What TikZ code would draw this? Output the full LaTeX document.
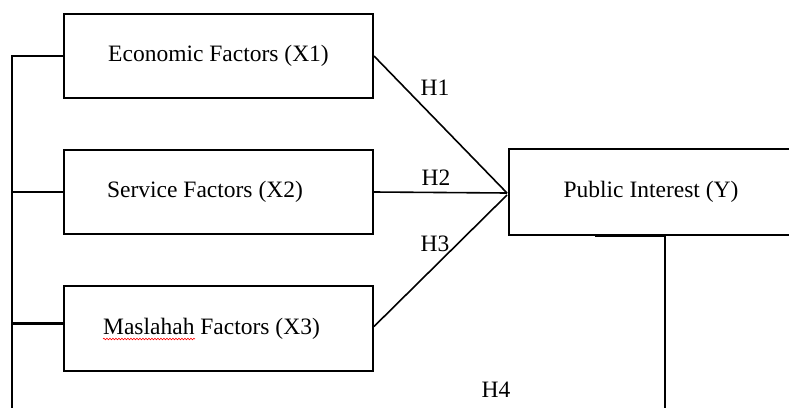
\documentclass[tikz,border=0pt]{standalone}
\usepackage{fontspec}
\setmainfont{Liberation Serif}
\usetikzlibrary{positioning, decorations.pathmorphing}
\tikzstyle{factor} = [rectangle, minimum width=309pt, minimum height=84pt, text centered, draw=black, line width=2pt, font=\fontsize{23.5}{27}\selectfont]
\tikzstyle{link} = [line width=1.6pt]
\tikzstyle{bus} = [line width=2.4pt]
\tikzstyle{hyp} = [font=\fontsize{23.5}{27}\selectfont, inner sep=0pt]

\begin{document}
\begin{tikzpicture}[x=1pt, y=-1pt]
    \useasboundingbox (0,0) rectangle (789,407);
    \clip (0,0) rectangle (789,407);
    % Nodes
    \node (eco) [factor] at (218.5,56) {Economic Factors (X1)};
    \node (serv) [factor] at (218.5,192) {\hspace*{-27pt}Service Factors (X2)};
    \node (masl) [factor, minimum height=85pt] at (218.5,328.5) {\hspace*{-14pt}Maslahah Factors (X3)};
    \node (pub) [factor, minimum width=284pt, minimum height=86pt] at (651,192) {Public Interest (Y)};
    \coordinate (busTop) at (12,56);
    \coordinate (busBot) at (12,410);
    \coordinate (hub) at (507,193);
    \coordinate (yDown) at (665,410);

    % Labels
    \node (h1) [hyp] at (435,88) {H1};
    \node (h2) [hyp] at (436,178) {H2};
    \node (h3) [hyp] at (435,244) {H3};
    \node (h4) [hyp] at (496,390) {H4};

    % Arrows
    \draw [bus] (eco.west) -- (busTop) -- (busBot);
    \draw [bus] (serv.west) -- (serv.west -| busTop);
    \draw [bus] ([yshift=5pt]masl.west) -- ([yshift=5pt]masl.west -| busTop);
    \draw [link] (eco.east) -- (hub);
    \draw [link] (serv.east) -- (hub);
    \draw [link] ([yshift=2pt]masl.east) -- ([yshift=-2pt]hub);
    \draw [bus] (pub.south -| yDown) -- (yDown);
    \draw [bus] ([xshift=-56pt]pub.south) -- (pub.south -| yDown);

    % spell-check mark
    \draw [red, line width=0.6pt, decorate, decoration={snake, amplitude=0.8pt, segment length=3pt}] (103,339) -- (195,339);
\end{tikzpicture}
\end{document}
